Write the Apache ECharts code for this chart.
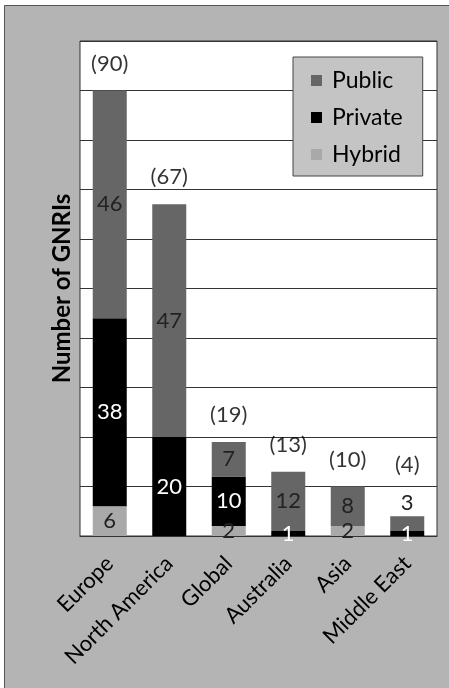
<!DOCTYPE html>
<html><head><meta charset="utf-8">
<script src="https://cdn.jsdelivr.net/npm/echarts@6/dist/echarts.min.js"></script>
<style>html,body{margin:0;padding:0;background:#fff}#c{width:449px;height:688px}</style>
</head><body><div id="c"></div>
<script>
const categories = ['Europe','North America','Global','Australia','Asia','Middle East'];
const hybrid  = [6, 0, 2, 0, 2, 0];
const privateV = [38, 20, 10, 1, 0, 1];
const publicV = [46, 47, 7, 12, 8, 3];
const totals = [90, 67, 19, 13, 10, 4];

const FONT = 'Lato';
const chart = echarts.init(document.getElementById('c'), null, {renderer:'canvas'});
const hideZero = p => (p.value === 0 ? '' : String(p.value));

const publicData = publicV.map((v, i) => i === 5
  ? {value: v, label: {position: 'top', distance: 2}}
  : v);
const totalData = totals.map((v, i) => i === 5
  ? {value: v, label: {distance: 40}}
  : v);

chart.setOption({
  backgroundColor: '#ffffff',
  animation: false,
  textStyle: {fontFamily: FONT},
  graphic: [{type: 'rect', z: -10, left: 4, top: 5, shape: {width: 445, height: 683}, style: {fill: '#b4b4b4', stroke: '#555', lineWidth: 1}}],
  grid: {left: 80, right: 12, top: 41, bottom: 152, show: true, backgroundColor: '#ffffff', borderColor: '#333', borderWidth: 1},
  legend: {
    data: ['Public','Private','Hybrid'],
    orient: 'vertical', left: 293, top: 57,
    padding: [12, 20, 10, 18],
    backgroundColor: '#c4c4c4', borderColor: '#444', borderWidth: 1,
    itemWidth: 11, itemHeight: 11, itemGap: 14, icon: 'rect',
    textStyle: {fontFamily: FONT, fontSize: 23, color: '#000', padding: [0,0,0,5]}
  },
  xAxis: {
    type: 'category', data: categories,
    axisLine: {lineStyle: {color: '#333'}}, axisTick: {show: false},
    axisLabel: {rotate: 45, fontSize: 22, color: '#000', interval: 0, margin: 24, fontFamily: FONT}
  },
  yAxis: {
    type: 'value', min: 0, max: 100, interval: 10,
    name: 'Number of GNRIs', nameLocation: 'middle', nameGap: 6,
    nameTextStyle: {fontSize: 24, fontWeight: 'bold', color: '#000', fontFamily: FONT},
    axisLabel: {show: false}, axisTick: {show: false}, axisLine: {show: false},
    splitLine: {lineStyle: {color: '#333', width: 1}}
  },
  series: [
    {name: 'Hybrid', type: 'bar', stack: 's', barWidth: 34, data: hybrid,
     itemStyle: {color: '#a9a9a9'},
     label: {show: true, position: 'inside', formatter: hideZero, fontSize: 22, color: '#222', fontFamily: FONT}},
    {name: 'Private', type: 'bar', stack: 's', barWidth: 34, data: privateV,
     itemStyle: {color: '#000000'},
     label: {show: true, position: 'inside', formatter: hideZero, fontSize: 22, color: '#fff', fontFamily: FONT}},
    {name: 'Public', type: 'bar', stack: 's', barWidth: 34, data: publicData,
     itemStyle: {color: '#666666'},
     label: {show: true, position: 'inside', formatter: hideZero, fontSize: 22, color: '#222', fontFamily: FONT}},
    {name: 'Total', type: 'scatter', data: totalData, symbolSize: 0, silent: true,
     label: {show: true, position: 'top', distance: 16, formatter: p => '(' + p.value + ')', fontSize: 22, color: '#000', fontFamily: FONT}}
  ]
});
</script></body></html>
